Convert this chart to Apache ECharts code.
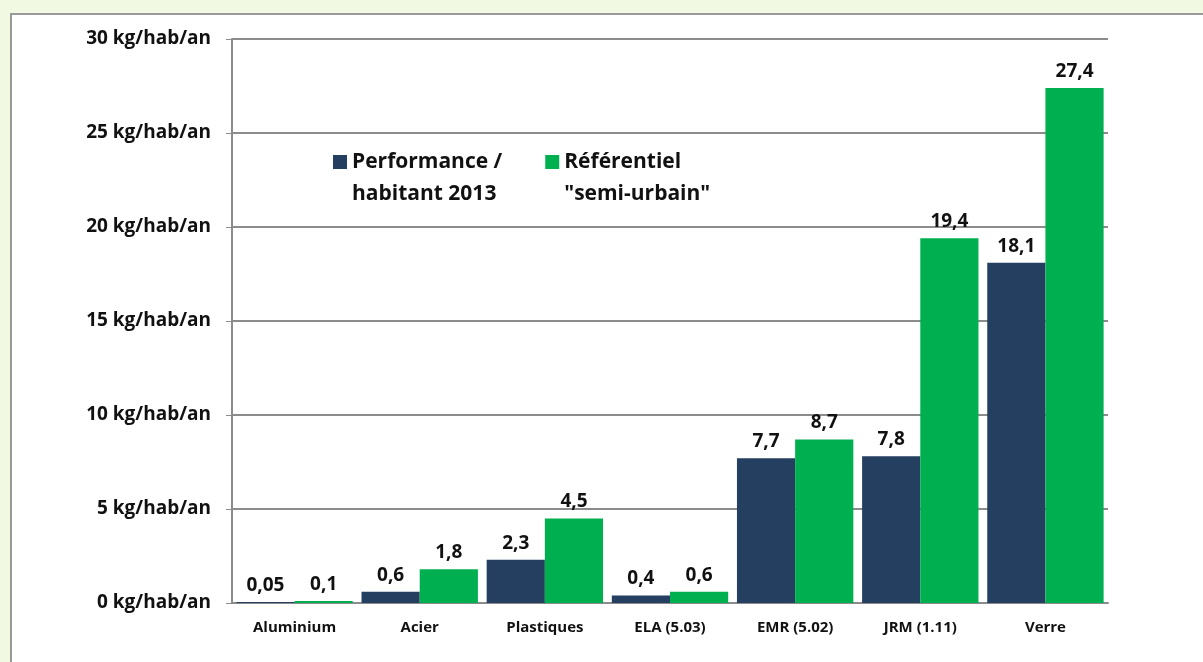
<!DOCTYPE html>
<html>
<head>
<meta charset="utf-8">
<script src="https://cdn.jsdelivr.net/npm/echarts@6/dist/echarts.min.js"></script>
<style>
  html, body { margin: 0; padding: 0; background: #f1f9e3; }
  #main { width: 1203px; height: 662px; }
</style>
</head>
<body>
<div id="main"></div>
<script>
var categories = ['Aluminium', 'Acier', 'Plastiques', 'ELA (5.03)', 'EMR (5.02)', 'JRM (1.11)', 'Verre'];
var performance = [0.05, 0.6, 2.3, 0.4, 7.7, 7.8, 18.1];
var referentiel = [0.1, 1.8, 4.5, 0.6, 8.7, 19.4, 27.4];
var seriesNames = ['Performance /\nhabitant 2013', 'Référentiel\n"semi-urbain"'];

var font = '"Open Sans", sans-serif';
var chart = echarts.init(document.getElementById('main'));

function valueLabel(p) {
    return String(p.value).replace('.', ',');
}

var option = {
    backgroundColor: '#f1f9e3',
    animation: false,
    graphic: [{
        type: 'rect',
        z: -10,
        shape: { x: 11, y: 14, width: 1220, height: 700 },
        style: { fill: '#ffffff', stroke: '#999999', lineWidth: 2 }
    }],
    grid: { left: 232, top: 39, right: 95, bottom: 59 },
    legend: {
        left: 328,
        top: 109,
        itemWidth: 14,
        itemHeight: 14,
        itemGap: 43,
        icon: 'rect',
        // empty first line keeps the square level with the first text line
        formatter: function (name) { return ' \n' + name; },
        textStyle: { fontFamily: font, fontSize: 21, fontWeight: 'bold', color: '#111', lineHeight: 32 },
        data: seriesNames
    },
    xAxis: {
        type: 'category',
        data: categories,
        axisLine: { lineStyle: { color: '#8c8c8c', width: 2 } },
        axisTick: { length: 6, lineStyle: { color: '#8c8c8c' } },
        axisLabel: { fontFamily: font, fontSize: 15, fontWeight: 'bold', color: '#111', margin: 17 }
    },
    yAxis: {
        type: 'value',
        min: 0,
        max: 30,
        interval: 5,
        axisLine: { show: true, lineStyle: { color: '#8c8c8c', width: 2 } },
        axisTick: { show: true, length: 6, lineStyle: { color: '#8c8c8c' } },
        splitLine: { lineStyle: { color: '#8c8c8c', width: 2 } },
        axisLabel: {
            fontFamily: font, fontSize: 19, fontWeight: 'bold', color: '#111', margin: 21,
            formatter: function (v) { return v + ' kg/hab/an'; }
        }
    },
    series: [{
        name: seriesNames[0],
        type: 'bar',
        data: performance,
        barGap: '0%',
        barCategoryGap: '7%',
        itemStyle: { color: '#243f60' },
        label: {
            show: true, position: 'top', distance: 7, formatter: valueLabel,
            fontFamily: font, fontSize: 19, fontWeight: 'bold', color: '#111'
        }
    }, {
        name: seriesNames[1],
        type: 'bar',
        data: referentiel,
        barGap: '0%',
        barCategoryGap: '7%',
        itemStyle: { color: '#00b050' },
        label: {
            show: true, position: 'top', distance: 7, formatter: valueLabel,
            fontFamily: font, fontSize: 19, fontWeight: 'bold', color: '#111'
        }
    }]
};

chart.setOption(option);
</script>
</body>
</html>
